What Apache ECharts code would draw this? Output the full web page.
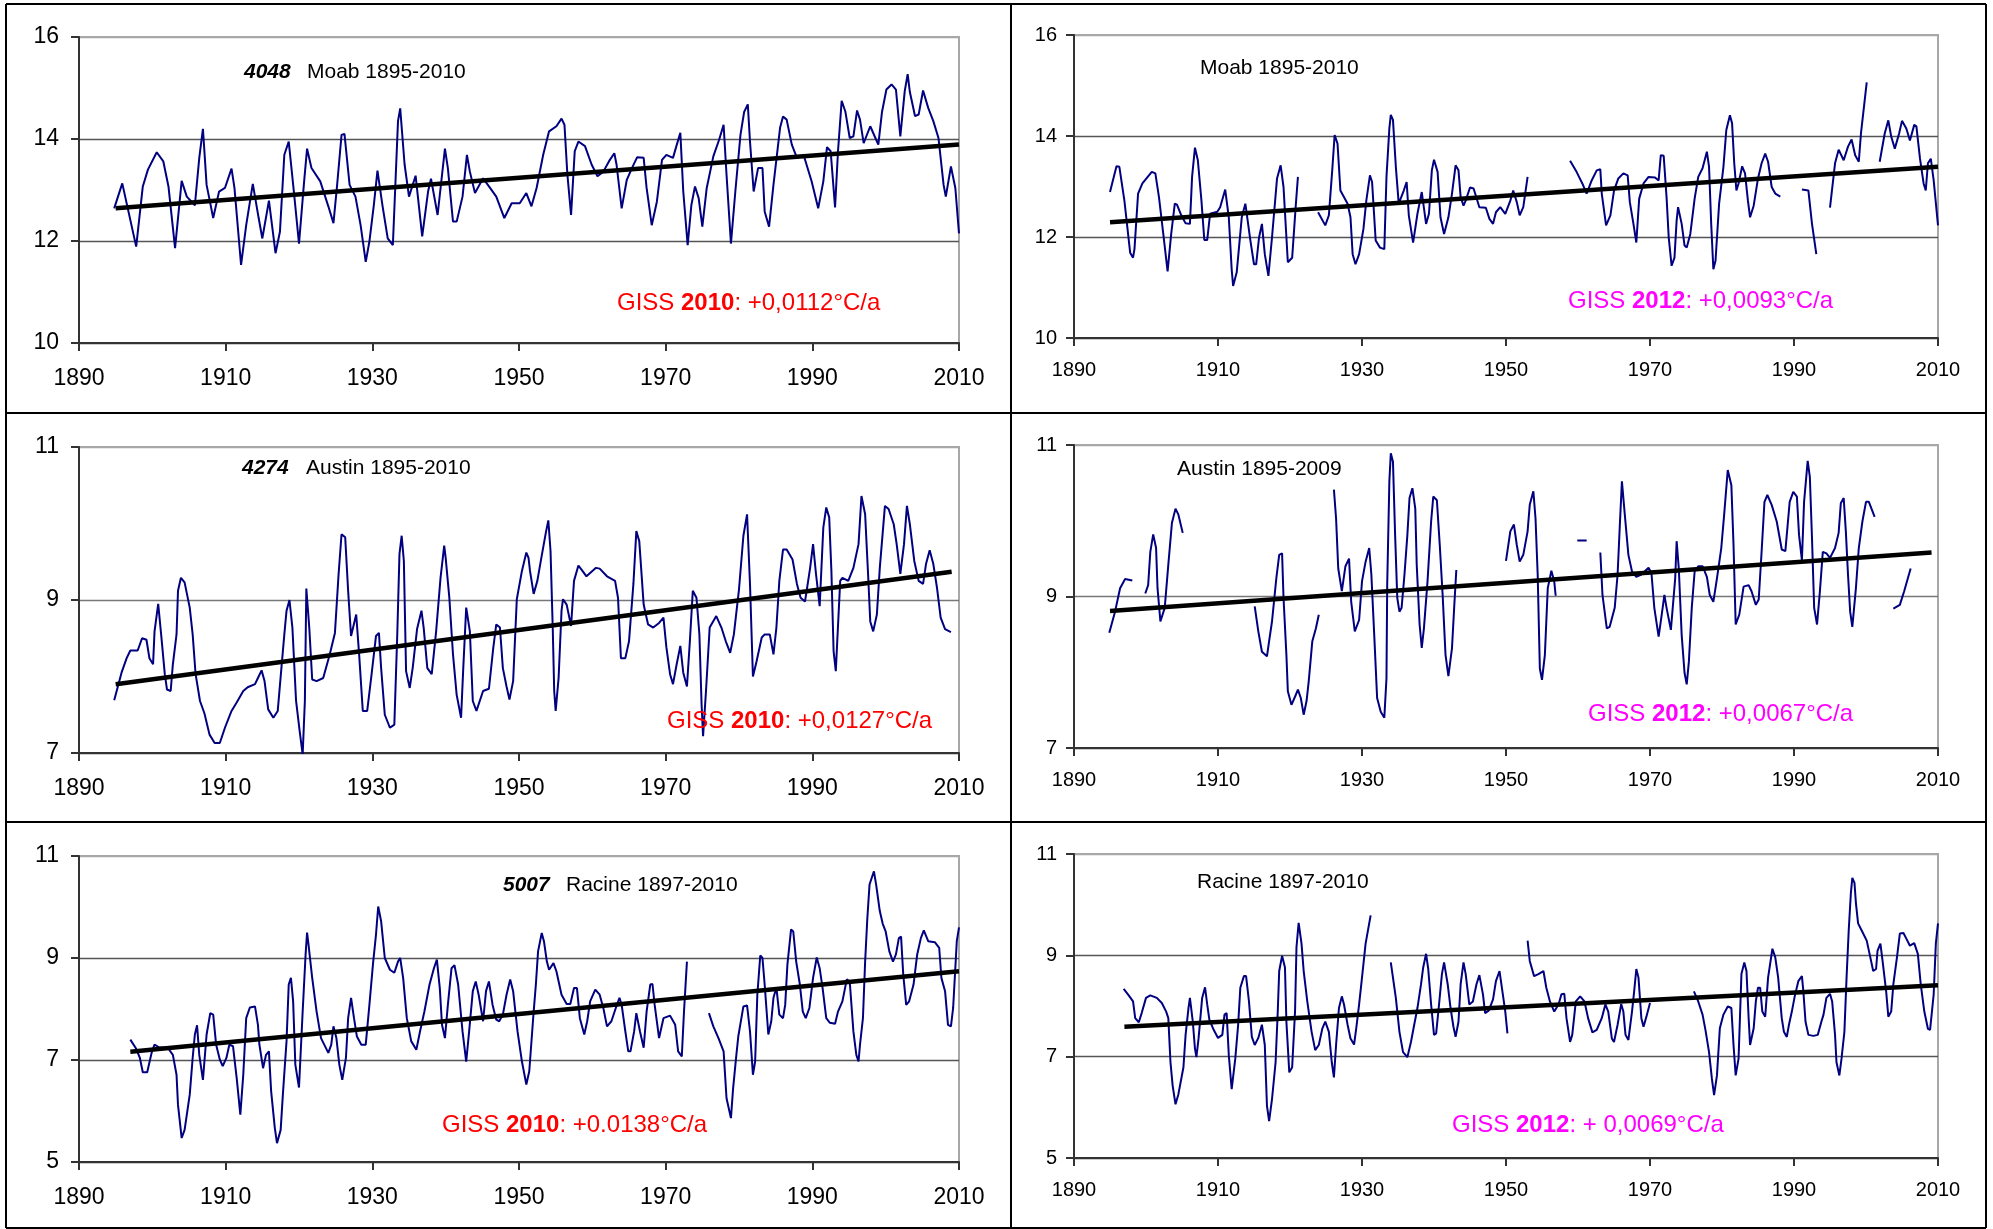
<!DOCTYPE html>
<html><head><meta charset="utf-8">
<script src="https://cdn.jsdelivr.net/npm/echarts/dist/echarts.min.js"></script>
<style>html,body{margin:0;padding:0;background:#fff}#c{width:1993px;height:1229px}</style>
</head><body><div id="c"></div>
<script>
// ---------------- DATA ----------------
const xTickYears = [1890, 1910, 1930, 1950, 1970, 1990, 2010];
const yTicksMoab = [10, 12, 14, 16];
const yTicksAustin = [7, 9, 11];
const yTicksRacine = [5, 7, 9, 11];

const moabGiss2010 = [[1894.8,12.64],[1895.9,13.13],[1897.8,11.89],[1898.7,13.07],[1899.4,13.4],[1900.6,13.74],[1901.5,13.56],[1902.2,13.07],[1903.1,11.86],[1904,13.18],[1904.7,12.87],[1905.8,12.7],[1906.4,13.63],[1906.9,14.2],[1907.4,13.1],[1908.3,12.45],[1909.1,12.97],[1909.9,13.04],[1910.8,13.42],[1911.2,13.04],[1912.1,11.53],[1912.8,12.31],[1913.7,13.12],[1914.5,12.45],[1915,12.05],[1915.9,12.79],[1916.8,11.76],[1917.4,12.18],[1918,13.69],[1918.6,13.95],[1919.3,12.97],[1920,11.95],[1920.7,13.17],[1921.1,13.81],[1921.7,13.43],[1922.9,13.17],[1924,12.68],[1924.7,12.35],[1925.2,13.1],[1925.8,14.08],[1926.2,14.1],[1926.9,13.1],[1927.7,12.87],[1928.4,12.31],[1929.1,11.59],[1929.6,11.99],[1930.2,12.7],[1930.7,13.38],[1931.4,12.68],[1932.1,12.05],[1932.8,11.92],[1933.5,14.35],[1933.8,14.6],[1934.4,13.5],[1935,12.87],[1935.9,13.28],[1936.8,12.09],[1937.6,12.97],[1938,13.22],[1938.9,12.51],[1939.9,13.81],[1940.3,13.43],[1941,12.38],[1941.5,12.38],[1942.3,12.87],[1942.9,13.69],[1943.3,13.36],[1944,12.94],[1945.1,13.23],[1946,13.05],[1946.9,12.87],[1948,12.45],[1949,12.74],[1950.1,12.74],[1951,12.94],[1951.7,12.68],[1952.4,13.04],[1953.3,13.69],[1954.1,14.15],[1955.1,14.25],[1955.8,14.4],[1956.2,14.28],[1956.6,13.3],[1957.1,12.51],[1957.6,13.76],[1958.1,13.95],[1959,13.86],[1959.9,13.5],[1960.7,13.27],[1961.5,13.36],[1962.3,13.57],[1963,13.72],[1963.3,13.5],[1964,12.64],[1964.7,13.2],[1965.4,13.43],[1966.1,13.64],[1967,13.63],[1967.4,13.04],[1968.1,12.31],[1968.8,12.77],[1969.5,13.59],[1970.1,13.69],[1971,13.63],[1971.5,13.88],[1972,14.12],[1972.4,12.97],[1973,11.92],[1973.5,12.7],[1974,13.07],[1974.5,12.84],[1975,12.28],[1975.6,13.04],[1976.5,13.66],[1977.3,13.99],[1977.9,14.28],[1978.3,13.3],[1978.9,11.95],[1979.5,12.97],[1980.2,14.08],[1980.7,14.53],[1981.2,14.68],[1981.5,13.95],[1982,12.97],[1982.6,13.43],[1983.2,13.43],[1983.5,12.58],[1984.1,12.28],[1984.7,13.1],[1985.6,14.22],[1986,14.44],[1986.5,14.38],[1987.2,13.89],[1987.9,13.63],[1988.8,13.69],[1989.9,13.17],[1990.8,12.64],[1991.5,13.17],[1992,13.84],[1992.5,13.76],[1993.1,12.66],[1993.5,13.76],[1994,14.75],[1994.5,14.54],[1995.1,14.02],[1995.6,14.05],[1996.1,14.56],[1996.5,14.38],[1997,13.92],[1997.9,14.25],[1998.6,14.02],[1999,13.89],[1999.5,14.53],[2000.1,14.97],[2000.8,15.07],[2001.4,14.97],[2002,14.05],[2002.6,14.94],[2003,15.27],[2003.3,14.92],[2004,14.45],[2004.5,14.48],[2005.1,14.95],[2005.8,14.61],[2006.5,14.35],[2007.2,14.02],[2007.9,13.1],[2008.2,12.87],[2008.9,13.46],[2009.5,13.04],[2010,12.15]];
const moabTrend2010 = [[1895,12.64],[2010,13.89]];

const moabGiss2012 = [[1895,12.89],[1895.9,13.4],[1896.3,13.39],[1897,12.72],[1897.8,11.69],[1898.2,11.59],[1898.4,11.76],[1898.9,12.86],[1899.5,13.06],[1900.8,13.29],[1901.3,13.26],[1901.8,12.79],[1902.4,12.06],[1903,11.32],[1903.5,12.06],[1904,12.66],[1904.3,12.64],[1904.9,12.43],[1905.5,12.27],[1906.1,12.26],[1906.4,13.19],[1906.8,13.77],[1907.2,13.52],[1907.7,12.72],[1908.1,11.94],[1908.5,11.94],[1908.9,12.46],[1909.9,12.5],[1910.3,12.59],[1911,12.94],[1911.5,12.39],[1911.9,11.36],[1912.1,11.03],[1912.6,11.3],[1913.3,12.39],[1913.8,12.66],[1914.5,11.93],[1915,11.46],[1915.3,11.46],[1915.7,11.99],[1916.1,12.26],[1916.5,11.66],[1917,11.23],[1917.5,11.99],[1918.2,13.16],[1918.7,13.42],[1919.1,12.99],[1919.7,11.5],[1920.3,11.59],[1920.8,12.62],[1921.1,13.19],[1922.5,null],[1923.9,12.49],[1924.9,12.23],[1925.4,12.43],[1925.9,13.39],[1926.2,14.02],[1926.6,13.85],[1927,12.92],[1928,12.66],[1928.4,12.39],[1928.7,11.66],[1929.1,11.46],[1929.6,11.66],[1930.2,12.16],[1930.6,12.72],[1931.1,13.22],[1931.4,13.09],[1931.9,11.93],[1932.5,11.79],[1933.1,11.76],[1933.4,13.19],[1933.8,14.15],[1934,14.42],[1934.3,14.32],[1934.7,13.39],[1935.1,12.66],[1935.8,12.92],[1936.2,13.09],[1936.5,12.43],[1937.1,11.89],[1937.7,12.46],[1938.3,12.89],[1938.9,12.26],[1939.3,12.46],[1939.7,13.32],[1940,13.53],[1940.5,13.29],[1940.9,12.39],[1941.4,12.06],[1942,12.39],[1942.5,12.86],[1943,13.42],[1943.4,13.32],[1943.7,12.79],[1944.1,12.62],[1944.4,12.72],[1945,12.98],[1945.5,12.96],[1946.3,12.59],[1947.2,12.58],[1947.7,12.36],[1948.2,12.26],[1948.6,12.49],[1949.2,12.59],[1949.9,12.46],[1950.6,12.72],[1951,12.92],[1951.5,12.69],[1951.9,12.43],[1952.4,12.59],[1953,13.19],[1956,null],[1958.9,13.51],[1959.8,13.29],[1960.6,13.06],[1961.2,12.86],[1961.9,13.12],[1962.6,13.32],[1963.1,13.34],[1963.3,12.86],[1963.9,12.23],[1964.5,12.43],[1965,12.92],[1965.6,13.16],[1966.3,13.26],[1966.9,13.22],[1967.2,12.69],[1967.7,12.26],[1968.1,11.89],[1968.5,12.76],[1969.1,13.06],[1969.8,13.19],[1970.7,13.18],[1971.2,13.12],[1971.5,13.62],[1971.9,13.61],[1972.3,12.79],[1972.6,11.99],[1973,11.43],[1973.4,11.59],[1973.7,12.33],[1973.9,12.59],[1974.4,12.26],[1974.8,11.83],[1975.1,11.79],[1975.6,12.06],[1976.2,12.76],[1976.7,13.19],[1977.3,13.36],[1977.9,13.69],[1978.2,13.39],[1978.5,12.26],[1978.8,11.36],[1979.1,11.53],[1979.6,12.66],[1980.2,13.39],[1980.6,14.12],[1981.1,14.41],[1981.4,14.25],[1981.7,13.46],[1982,12.92],[1982.3,13.06],[1982.8,13.4],[1983.2,13.26],[1983.6,12.72],[1983.9,12.39],[1984.4,12.62],[1985,13.16],[1985.5,13.46],[1986,13.65],[1986.4,13.49],[1986.9,12.99],[1987.4,12.86],[1988.1,12.8],[1989.5,null],[1991.1,12.94],[1992,12.92],[1992.5,12.26],[1993.1,11.66],[1994,null],[1995,12.58],[1995.7,13.46],[1996.2,13.73],[1996.9,13.52],[1997.5,13.79],[1998,13.93],[1998.5,13.62],[1999,13.49],[1999.3,14.05],[2000.1,15.06],[2001,null],[2001.9,13.49],[2002.6,14.05],[2003.1,14.31],[2003.5,13.99],[2004,13.75],[2004.6,14.05],[2005,14.3],[2005.6,14.15],[2006.1,13.91],[2006.7,14.22],[2007,14.19],[2007.5,13.55],[2008,13.06],[2008.3,12.92],[2008.6,13.46],[2009,13.55],[2009.4,13.12],[2010,12.23]];
const moabTrend2012 = [[1895,12.29],[2010,13.39]];

const austinGiss2010 = [[1894.8,7.69],[1895.8,8.05],[1896.5,8.24],[1897,8.34],[1898,8.34],[1898.6,8.5],[1899.2,8.48],[1899.6,8.24],[1900.1,8.16],[1900.3,8.59],[1900.8,8.95],[1901.2,8.55],[1901.7,8.03],[1902,7.83],[1902.5,7.81],[1902.8,8.16],[1903.3,8.55],[1903.5,9.12],[1903.9,9.29],[1904.4,9.23],[1905.1,8.9],[1905.5,8.55],[1905.9,8.03],[1906.5,7.68],[1907.1,7.52],[1907.8,7.24],[1908.5,7.13],[1909.2,7.13],[1909.9,7.33],[1910.8,7.55],[1911.5,7.66],[1912.4,7.81],[1913,7.86],[1914,7.9],[1914.4,7.98],[1914.9,8.08],[1915.3,7.94],[1915.8,7.57],[1916.5,7.46],[1917.1,7.55],[1917.6,8.11],[1918,8.55],[1918.3,8.86],[1918.7,9.0],[1919.1,8.64],[1919.6,7.68],[1920.1,7.28],[1920.5,6.98],[1920.8,7.68],[1921,9.15],[1921.4,8.64],[1921.8,7.96],[1922.4,7.94],[1923.3,7.98],[1924.2,8.29],[1924.9,8.57],[1925.4,9.34],[1925.8,9.86],[1926.3,9.82],[1926.7,9.12],[1927.1,8.53],[1927.8,8.81],[1928.2,8.29],[1928.7,7.55],[1929.3,7.55],[1929.9,8.03],[1930.5,8.53],[1930.9,8.57],[1931.2,8.11],[1931.7,7.5],[1932.4,7.33],[1933,7.37],[1933.4,8.55],[1933.7,9.6],[1934,9.84],[1934.3,9.51],[1934.6,8.07],[1935.1,7.85],[1935.5,8.11],[1936.1,8.62],[1936.7,8.86],[1937,8.64],[1937.5,8.11],[1938.1,8.03],[1938.7,8.59],[1939.3,9.29],[1939.8,9.71],[1940,9.55],[1940.5,9.03],[1941,8.29],[1941.5,7.76],[1942.1,7.46],[1942.4,8.11],[1942.8,8.9],[1943.3,8.59],[1943.7,7.68],[1944.2,7.55],[1945.1,7.81],[1945.9,7.84],[1946.5,8.38],[1946.9,8.68],[1947.4,8.64],[1947.8,8.11],[1948.3,7.87],[1948.7,7.7],[1949.2,7.94],[1949.7,9.01],[1950.4,9.38],[1951,9.62],[1951.3,9.55],[1951.5,9.38],[1952,9.08],[1952.5,9.25],[1953.1,9.58],[1953.7,9.9],[1954,10.04],[1954.3,9.64],[1954.6,8.64],[1954.8,7.81],[1955,7.55],[1955.4,7.98],[1955.8,8.86],[1956,9.01],[1956.5,8.94],[1957.1,8.66],[1957.5,9.25],[1958.1,9.45],[1958.5,9.4],[1959.2,9.31],[1960.5,9.42],[1961,9.41],[1962,9.31],[1963.1,9.25],[1963.5,9.03],[1963.9,8.24],[1964.5,8.24],[1965,8.46],[1965.6,9.21],[1966,9.9],[1966.4,9.77],[1967,8.94],[1967.6,8.68],[1968.3,8.64],[1969.1,8.7],[1969.7,8.77],[1970.1,8.38],[1970.6,8.03],[1971,7.9],[1971.5,8.16],[1972,8.4],[1972.4,8.05],[1972.9,7.87],[1973.3,8.46],[1973.7,9.12],[1974.2,9.03],[1974.6,8.55],[1974.9,7.63],[1975.1,7.22],[1975.5,7.81],[1976,8.64],[1976.9,8.79],[1977.6,8.64],[1978.2,8.46],[1978.8,8.31],[1979.3,8.55],[1980,9.14],[1980.6,9.84],[1981.1,10.12],[1981.5,9.21],[1981.9,8.0],[1982.4,8.2],[1983.1,8.51],[1983.5,8.55],[1984.2,8.55],[1984.7,8.29],[1985.1,8.64],[1985.5,9.25],[1986,9.66],[1986.5,9.66],[1987.3,9.53],[1987.9,9.21],[1988.4,9.03],[1989,8.98],[1989.7,9.42],[1990.1,9.73],[1990.5,9.34],[1991,8.92],[1991.5,9.95],[1991.9,10.21],[1992.3,10.08],[1992.6,9.38],[1992.9,8.33],[1993.2,8.07],[1993.8,9.25],[1994.1,9.29],[1994.9,9.25],[1995.6,9.42],[1996.3,9.73],[1996.7,10.36],[1997.2,10.12],[1997.6,9.34],[1997.9,8.72],[1998.3,8.59],[1998.8,8.81],[1999.2,9.42],[1999.9,10.23],[2000.4,10.19],[2001.1,9.99],[2001.5,9.73],[2002,9.34],[2002.5,9.73],[2002.9,10.23],[2003.3,9.99],[2003.9,9.51],[2004.5,9.25],[2005.1,9.21],[2005.5,9.47],[2006,9.65],[2006.5,9.47],[2007,9.16],[2007.5,8.77],[2008.1,8.62],[2008.9,8.58]];
const austinTrend2010 = [[1895,7.9],[2009,9.37]];

const austinGiss2012 = [[1894.9,8.52],[1895.7,8.8],[1896.4,9.11],[1897.1,9.23],[1898.1,9.21],[1899,null],[1899.9,9.04],[1900.3,9.15],[1900.6,9.59],[1901,9.82],[1901.4,9.64],[1901.6,9.11],[1902,8.67],[1902.6,8.85],[1903.1,9.42],[1903.6,9.97],[1904.1,10.16],[1904.5,10.08],[1905.1,9.84],[1910,null],[1915.1,8.87],[1915.6,8.54],[1916.1,8.27],[1916.8,8.21],[1917.1,8.41],[1917.5,8.67],[1918.1,9.24],[1918.5,9.55],[1918.9,9.57],[1919.1,8.98],[1919.5,8.23],[1919.7,7.75],[1920.2,7.57],[1920.8,7.7],[1921.1,7.77],[1921.5,7.66],[1921.9,7.44],[1922.3,7.62],[1922.6,7.88],[1923.1,8.41],[1923.6,8.58],[1924,8.76],[1925,null],[1926.1,10.41],[1926.4,10.03],[1926.7,9.37],[1927.2,9.07],[1927.7,9.4],[1928.2,9.5],[1928.5,8.93],[1929,8.54],[1929.6,8.69],[1930,9.2],[1930.5,9.46],[1931,9.64],[1931.3,9.29],[1931.7,8.49],[1932.1,7.66],[1932.6,7.48],[1933.1,7.4],[1933.4,7.92],[1933.5,9.15],[1933.8,10.52],[1934,10.89],[1934.3,10.78],[1934.6,9.81],[1934.9,8.98],[1935.2,8.8],[1935.5,8.85],[1935.9,9.29],[1936.3,9.81],[1936.6,10.3],[1937,10.43],[1937.4,10.16],[1937.6,9.42],[1938,8.63],[1938.3,8.32],[1938.6,8.58],[1939.1,9.2],[1939.6,9.99],[1939.9,10.32],[1940.4,10.27],[1940.8,9.68],[1941.2,9.02],[1941.6,8.23],[1942,7.95],[1942.5,8.32],[1942.8,8.85],[1943.1,9.35],[1946,null],[1950,9.47],[1950.6,9.86],[1951.1,9.95],[1951.5,9.68],[1951.9,9.46],[1952.4,9.55],[1953,9.86],[1953.3,10.21],[1953.8,10.39],[1954.1,10.03],[1954.4,9.29],[1954.7,8.05],[1955,7.9],[1955.4,8.23],[1955.8,9.11],[1956.3,9.34],[1956.7,9.2],[1956.9,9.01],[1958,null],[1959.9,9.74],[1961.2,9.74],[1962,null],[1963.1,9.58],[1963.4,9.02],[1964,8.58],[1964.4,8.6],[1965.1,8.85],[1965.5,9.29],[1965.8,9.92],[1966.1,10.52],[1966.5,10.08],[1967,9.55],[1967.5,9.33],[1968.1,9.26],[1968.8,9.29],[1969.8,9.38],[1970.2,9.31],[1970.6,8.85],[1971.2,8.47],[1971.6,8.74],[1972,9.02],[1972.3,8.85],[1972.9,8.56],[1973.5,9.24],[1973.7,9.73],[1974,9.37],[1974.4,8.49],[1974.8,7.99],[1975.1,7.84],[1975.4,8.14],[1975.8,8.85],[1976.2,9.33],[1976.7,9.4],[1977.3,9.4],[1977.9,9.26],[1978.3,9.02],[1978.8,8.93],[1979.3,9.24],[1979.9,9.64],[1980.3,10.08],[1980.8,10.67],[1981.3,10.47],[1981.6,9.68],[1981.9,8.63],[1982.4,8.76],[1983,9.13],[1983.7,9.15],[1984.1,9.07],[1984.7,8.89],[1985.1,8.96],[1985.5,9.59],[1985.9,10.25],[1986.3,10.34],[1986.9,10.21],[1987.6,9.99],[1988.3,9.62],[1988.8,9.6],[1989.4,10.25],[1989.9,10.38],[1990.4,10.32],[1990.7,9.81],[1991.1,9.48],[1991.4,10.25],[1991.9,10.79],[1992.2,10.58],[1992.5,9.77],[1992.8,8.85],[1993.2,8.63],[1993.6,9.07],[1994,9.59],[1994.5,9.57],[1995,9.51],[1995.7,9.64],[1996.2,9.84],[1996.5,10.23],[1996.9,10.3],[1997.2,9.86],[1997.5,9.29],[1997.8,8.8],[1998.1,8.6],[1998.6,9.11],[1999,9.64],[1999.5,9.99],[2000,10.25],[2000.4,10.25],[2001.2,10.05],[2002.5,null],[2003.8,8.84],[2004.7,8.89],[2005.3,9.07],[2006.2,9.37]];
const austinTrend2012 = [[1895,8.81],[2009.1,9.58]];

const racineGiss2010 = [[1897,7.4],[1897.8,7.22],[1898.3,7.04],[1898.7,6.76],[1899.3,6.76],[1899.9,7.14],[1900.3,7.3],[1900.9,7.25],[1902.1,7.24],[1902.8,7.1],[1903.3,6.71],[1903.5,6.12],[1904,5.47],[1904.4,5.63],[1905.1,6.32],[1905.5,7.04],[1905.8,7.5],[1906.1,7.68],[1906.4,7.1],[1906.9,6.61],[1907.4,7.5],[1907.9,7.92],[1908.3,7.89],[1908.7,7.3],[1909.2,7.01],[1909.6,6.88],[1910.1,7.04],[1910.5,7.3],[1911,7.27],[1911.5,6.65],[1912,5.93],[1912.4,6.71],[1912.8,7.82],[1913.3,8.03],[1914,8.05],[1914.4,7.69],[1914.6,7.3],[1915.1,6.84],[1915.5,7.1],[1915.9,7.17],[1916.2,6.39],[1916.7,5.67],[1917,5.37],[1917.5,5.63],[1917.8,6.32],[1918.3,7.37],[1918.6,8.48],[1918.9,8.61],[1919.2,8.15],[1919.5,6.91],[1920,6.46],[1920.5,7.95],[1920.9,9.07],[1921.1,9.5],[1921.3,9.26],[1921.8,8.61],[1922.4,7.95],[1923,7.43],[1924,7.14],[1924.4,7.3],[1924.7,7.66],[1925.1,7.43],[1925.5,6.91],[1925.9,6.61],[1926.4,7.04],[1926.7,7.82],[1927.1,8.22],[1927.5,7.82],[1927.9,7.46],[1928.5,7.3],[1929.1,7.3],[1929.6,8.08],[1930.1,8.9],[1930.5,9.46],[1930.8,10.01],[1931.2,9.72],[1931.7,9.0],[1932.4,8.77],[1933,8.71],[1933.5,8.93],[1933.8,9.0],[1934.2,8.61],[1934.7,7.82],[1935.3,7.37],[1936,7.2],[1936.5,7.56],[1937.1,7.95],[1937.8,8.48],[1938.4,8.8],[1938.8,8.97],[1939.2,8.41],[1939.5,7.69],[1939.9,7.43],[1940.3,8.08],[1940.8,8.8],[1941.2,8.86],[1941.7,8.48],[1942.3,7.56],[1942.8,6.97],[1943.2,7.56],[1943.7,8.35],[1944.1,8.54],[1944.5,8.28],[1945.1,7.76],[1945.5,8.35],[1945.9,8.54],[1946.4,8.08],[1946.9,7.79],[1947.3,7.76],[1947.8,7.89],[1948.3,8.28],[1948.8,8.58],[1949.2,8.35],[1949.8,7.56],[1950.4,6.97],[1951,6.52],[1951.4,6.78],[1952,7.95],[1952.3,8.48],[1952.6,9.13],[1953.1,9.49],[1953.4,9.33],[1953.8,8.93],[1954.1,8.77],[1954.7,8.9],[1955.1,8.74],[1955.8,8.28],[1956.5,8.1],[1957,8.1],[1957.5,8.41],[1957.9,8.41],[1958.3,7.82],[1958.9,7.5],[1959.3,7.76],[1959.7,8.15],[1960.4,8.38],[1961,8.28],[1961.5,8.02],[1962,7.66],[1962.6,7.76],[1963.2,8.02],[1963.7,8.22],[1964,8.08],[1964.5,7.56],[1964.9,7.17],[1965.2,7.17],[1965.7,7.56],[1966,7.92],[1966.5,7.56],[1967,7.24],[1967.4,7.95],[1967.9,8.48],[1968.2,8.49],[1968.5,8.08],[1969.1,7.43],[1969.7,7.82],[1970.6,7.87],[1971.3,7.69],[1971.7,7.17],[1972.2,7.07],[1972.5,7.95],[1972.9,8.93],[1974.5,null],[1975.9,7.92],[1976.5,7.66],[1977.2,7.43],[1977.9,7.17],[1978.3,6.25],[1978.9,5.86],[1979.2,6.45],[1979.6,7.04],[1979.9,7.46],[1980.6,8.05],[1981.1,8.07],[1981.5,7.56],[1981.9,6.71],[1982.2,6.97],[1982.5,8.28],[1982.9,9.05],[1983.2,9.0],[1983.5,8.48],[1984,7.5],[1984.4,7.76],[1984.7,8.22],[1985.1,8.42],[1985.5,7.89],[1986,7.82],[1986.3,8.08],[1986.6,8.87],[1987.1,9.56],[1987.4,9.52],[1987.8,8.93],[1988.3,8.48],[1988.7,7.95],[1989.1,7.82],[1989.6,8.02],[1990.1,8.61],[1990.6,9.01],[1991,8.8],[1991.4,8.41],[1991.9,7.82],[1992.4,7.73],[1993.1,7.71],[1993.5,7.95],[1994.1,8.15],[1994.7,8.58],[1995.1,8.54],[1995.6,7.56],[1996,7.1],[1996.3,6.97],[1996.5,7.3],[1996.9,7.82],[1997.2,8.93],[1997.5,9.78],[1997.8,10.44],[1998.4,10.7],[1998.7,10.44],[1999.2,9.92],[1999.6,9.67],[2000,9.52],[2000.5,9.13],[2001,8.93],[2001.4,9.07],[2001.8,9.39],[2002.1,9.42],[2002.4,8.67],[2002.8,8.08],[2003.2,8.15],[2003.8,8.48],[2004.3,9.07],[2004.8,9.39],[2005.2,9.54],[2005.8,9.33],[2006.7,9.31],[2007.3,9.2],[2007.6,8.61],[2008.1,8.35],[2008.5,7.69],[2008.9,7.66],[2009.2,8.02],[2009.7,9.33],[2010,9.6]];
const racineTrend2010 = [[1897,7.16],[2010,8.74]];

const racineGiss2012 = [[1896.9,8.34],[1897.6,8.21],[1898.2,8.09],[1898.5,7.76],[1899,7.68],[1899.4,7.86],[1900,8.16],[1900.6,8.21],[1901.5,8.16],[1902.2,8.06],[1902.8,7.89],[1903.1,7.76],[1903.4,6.89],[1903.7,6.43],[1904.1,6.06],[1904.5,6.26],[1905.2,6.79],[1905.5,7.43],[1905.9,7.96],[1906.1,8.16],[1906.5,7.69],[1906.8,7.16],[1907,6.99],[1907.3,7.36],[1907.8,8.16],[1908.2,8.37],[1908.5,8.03],[1908.8,7.73],[1909.4,7.53],[1910,7.37],[1910.6,7.43],[1910.9,7.83],[1911.2,7.86],[1911.5,7.03],[1911.9,6.36],[1912.4,6.96],[1912.8,7.63],[1913.1,8.36],[1913.6,8.59],[1913.9,8.59],[1914.3,8.09],[1914.7,7.39],[1915.1,7.23],[1915.6,7.37],[1916.1,7.63],[1916.5,7.23],[1916.8,6.03],[1917.1,5.73],[1917.5,6.16],[1918,6.89],[1918.3,7.89],[1918.5,8.69],[1918.9,8.99],[1919.3,8.76],[1919.5,7.69],[1919.9,6.69],[1920.3,6.79],[1920.7,7.89],[1920.9,9.16],[1921.2,9.64],[1921.6,9.23],[1921.9,8.69],[1922.4,8.09],[1923,7.49],[1923.5,7.13],[1924,7.23],[1924.5,7.56],[1924.9,7.69],[1925.4,7.49],[1925.8,6.89],[1926.1,6.59],[1926.4,7.23],[1926.8,7.96],[1927.2,8.19],[1927.5,8.03],[1928,7.63],[1928.4,7.36],[1928.9,7.24],[1929.2,7.56],[1929.6,8.03],[1930,8.56],[1930.5,9.23],[1931.2,9.79],[1932.5,null],[1934,8.86],[1934.7,8.16],[1935.2,7.49],[1935.7,7.09],[1936.3,6.99],[1936.8,7.29],[1937.2,7.59],[1937.7,7.96],[1938.2,8.43],[1938.5,8.76],[1938.9,9.03],[1939.2,8.73],[1939.6,8.03],[1940,7.43],[1940.3,7.46],[1940.7,8.03],[1941.1,8.63],[1941.4,8.86],[1941.9,8.43],[1942.3,7.96],[1942.7,7.59],[1943,7.39],[1943.4,7.69],[1943.7,8.43],[1944.1,8.86],[1944.4,8.63],[1944.9,8.03],[1945.4,8.09],[1945.9,8.43],[1946.3,8.61],[1946.8,8.23],[1947.1,7.86],[1947.6,7.91],[1948.2,8.13],[1948.6,8.49],[1949.1,8.69],[1949.5,8.29],[1949.9,7.89],[1950.2,7.46],[1951.5,null],[1953,9.29],[1953.3,8.89],[1953.9,8.59],[1954.5,8.63],[1955.2,8.69],[1955.6,8.36],[1956.1,8.09],[1956.7,7.89],[1957.3,8.03],[1957.7,8.23],[1958.1,8.24],[1958.4,7.76],[1958.9,7.29],[1959.2,7.43],[1959.7,8.09],[1960.3,8.19],[1960.9,8.09],[1961.4,7.76],[1962,7.48],[1962.6,7.53],[1963.3,7.76],[1963.8,8.03],[1964.2,7.89],[1964.7,7.36],[1965,7.29],[1965.5,7.63],[1966,8.04],[1966.3,7.89],[1966.6,7.43],[1967,7.33],[1967.5,7.89],[1967.8,8.29],[1968.1,8.73],[1968.4,8.56],[1968.8,7.76],[1969.1,7.59],[1969.5,7.79],[1970,8.06],[1973,null],[1976.1,8.29],[1976.7,8.09],[1977.3,7.83],[1977.7,7.53],[1978.2,7.09],[1978.6,6.56],[1978.9,6.24],[1979.3,6.63],[1979.7,7.56],[1980.2,7.83],[1980.8,7.99],[1981.3,7.96],[1981.6,7.23],[1981.9,6.63],[1982.3,6.96],[1982.7,8.63],[1983.1,8.86],[1983.4,8.69],[1983.7,7.76],[1983.9,7.23],[1984.4,7.56],[1984.7,8.09],[1985,8.36],[1985.3,8.36],[1985.6,7.89],[1986,7.79],[1986.4,8.56],[1987,9.13],[1987.4,8.96],[1987.8,8.56],[1988.3,7.76],[1988.6,7.49],[1989,7.39],[1989.3,7.63],[1989.7,7.89],[1990.1,8.19],[1990.6,8.49],[1991.1,8.59],[1991.3,8.29],[1991.6,7.69],[1992,7.43],[1992.7,7.41],[1993.3,7.43],[1993.8,7.69],[1994.1,7.83],[1994.5,8.16],[1995,8.24],[1995.3,8.09],[1995.7,7.43],[1995.9,6.89],[1996.3,6.63],[1996.6,6.96],[1997,7.49],[1997.3,8.56],[1997.6,9.49],[1997.9,10.23],[1998.1,10.53],[1998.4,10.43],[1998.6,10.03],[1998.9,9.63],[1999.4,9.49],[2000.1,9.29],[2000.6,8.96],[2001,8.69],[2001.4,8.73],[2001.6,9.09],[2002,9.23],[2002.3,8.89],[2002.8,8.29],[2003.1,7.79],[2003.5,7.89],[2003.8,8.43],[2004.3,8.96],[2004.7,9.43],[2005.2,9.44],[2005.6,9.33],[2006.1,9.19],[2006.7,9.24],[2007.2,9.03],[2007.6,8.43],[2008.1,7.89],[2008.6,7.55],[2008.9,7.53],[2009.4,8.23],[2009.7,9.23],[2010,9.63]];
const racineTrend2012 = [[1897,7.59],[2010,8.41]];

// ---------------- LAYOUT ----------------
const FONT = '"Liberation Sans", Arial, Helvetica, sans-serif';
const panels = [
  {grid:{left:79,top:37,width:880,height:306}, yTicks:yTicksMoab, data:moabGiss2010, trend:moabTrend2010, lab:23, ylm:20, xlm:24,
   split:['#333','#555','#555','#a8a8a8']},
  {grid:{left:1074,top:35,width:864,height:303}, yTicks:yTicksMoab, data:moabGiss2012, trend:moabTrend2012, lab:20, ylm:17, xlm:22,
   split:['#333','#555','#555','#a8a8a8']},
  {grid:{left:79,top:447,width:880,height:306}, yTicks:yTicksAustin, data:austinGiss2010, trend:austinTrend2010, lab:23, ylm:20, xlm:24,
   split:['#333','#777','#a8a8a8']},
  {grid:{left:1074,top:445,width:864,height:303}, yTicks:yTicksAustin, data:austinGiss2012, trend:austinTrend2012, lab:20, ylm:17, xlm:22,
   split:['#333','#777','#a8a8a8']},
  {grid:{left:79,top:856,width:880,height:306}, yTicks:yTicksRacine, data:racineGiss2010, trend:racineTrend2010, lab:23, ylm:20, xlm:24,
   split:['#333','#555','#555','#a8a8a8']},
  {grid:{left:1074,top:854,width:864,height:304}, yTicks:yTicksRacine, data:racineGiss2012, trend:racineTrend2012, lab:20, ylm:17, xlm:22,
   split:['#333','#555','#555','#a8a8a8']}
];

const grids = [], xAxes = [], yAxes = [], series = [];
panels.forEach((p, i) => {
  grids.push(Object.assign({show:true, borderColor:'#a8a8a8', borderWidth:2, backgroundColor:'#fff'}, p.grid));
  xAxes.push({
    type:'value', gridIndex:i, min:xTickYears[0], max:xTickYears[xTickYears.length-1],
    interval:xTickYears[1]-xTickYears[0],
    axisLine:{show:true, onZero:false, lineStyle:{color:'#333', width:2}},
    axisTick:{show:true, length:8, lineStyle:{color:'#333', width:2}},
    axisLabel:{fontFamily:FONT, fontSize:p.lab, color:'#000', margin:p.xlm, formatter:(v) => String(v)},
    splitLine:{show:false}
  });
  yAxes.push({
    type:'value', gridIndex:i, min:p.yTicks[0], max:p.yTicks[p.yTicks.length-1],
    interval:p.yTicks[1]-p.yTicks[0],
    axisLine:{show:true, onZero:false, lineStyle:{color:'#333', width:2}},
    axisTick:{show:true, length:8, lineStyle:{color:'#333', width:2}},
    axisLabel:{fontFamily:FONT, fontSize:p.lab, color:'#000', margin:p.ylm, formatter:(v) => String(v)},
    splitLine:{show:true, lineStyle:{color:p.split, width:1.3}}
  });
  series.push({type:'line', xAxisIndex:i, yAxisIndex:i, data:p.data, showSymbol:false, symbol:'none',
    connectNulls:false, lineStyle:{color:'#000080', width:2}, z:3, animation:false});
  series.push({type:'line', xAxisIndex:i, yAxisIndex:i, data:p.trend, showSymbol:false, symbol:'none',
    lineStyle:{color:'#000', width:4.5}, z:4, animation:false});
});

function t(x, y, text, size, opts) {
  return {type:'text', x:x, y:y, z:10, style:Object.assign({
    text:text, fill:'#000', fontFamily:FONT, fontSize:size, verticalAlign:'middle', align:'left'}, opts||{})};
}
function giss(x, y, year, rest, color) {
  return {type:'text', x:x, y:y, z:10, style:{
    text:'{a|GISS }{b|' + year + '}{a|' + rest + '}', verticalAlign:'middle', align:'left',
    rich:{a:{fontFamily:FONT, fontSize:24, fill:color}, b:{fontFamily:FONT, fontSize:24, fontWeight:'bold', fill:color}}}};
}
const line = (x1,y1,x2,y2) => ({type:'line', z:20, shape:{x1,y1,x2,y2}, style:{stroke:'#000', lineWidth:2}});

const graphics = [
  t(244, 72, '4048', 21, {fontWeight:'bold', fontStyle:'italic'}),
  t(307, 72, 'Moab 1895-2010', 21),
  t(1200, 68, 'Moab 1895-2010', 21),
  t(242, 468, '4274', 21, {fontWeight:'bold', fontStyle:'italic'}),
  t(306, 468, 'Austin 1895-2010', 21),
  t(1177, 469, 'Austin 1895-2009', 21),
  t(503, 885, '5007', 21, {fontWeight:'bold', fontStyle:'italic'}),
  t(566, 885, 'Racine 1897-2010', 21),
  t(1197, 882, 'Racine 1897-2010', 21),
  giss(617, 303, '2010', ': +0,0112°C/a', '#ff0000'),
  giss(1568, 301, '2012', ': +0,0093°C/a', '#ff00ff'),
  giss(667, 721, '2010', ': +0,0127°C/a', '#ff0000'),
  giss(1588, 714, '2012', ': +0,0067°C/a', '#ff00ff'),
  giss(442, 1125, '2010', ': +0.0138°C/a', '#ff0000'),
  giss(1452, 1125, '2012', ': + 0,0069°C/a', '#ff00ff'),
  line(6, 4, 1986, 4), line(6, 1228, 1986, 1228), line(6, 4, 6, 1228), line(1986, 4, 1986, 1228),
  line(1011, 4, 1011, 1228), line(6, 413, 1986, 413), line(6, 822, 1986, 822)
];

const chart = echarts.init(document.getElementById('c'), null, {renderer:'canvas'});
chart.setOption({
  backgroundColor:'#fff', animation:false,
  grid:grids, xAxis:xAxes, yAxis:yAxes, series:series, graphic:graphics
});
</script></body></html>
